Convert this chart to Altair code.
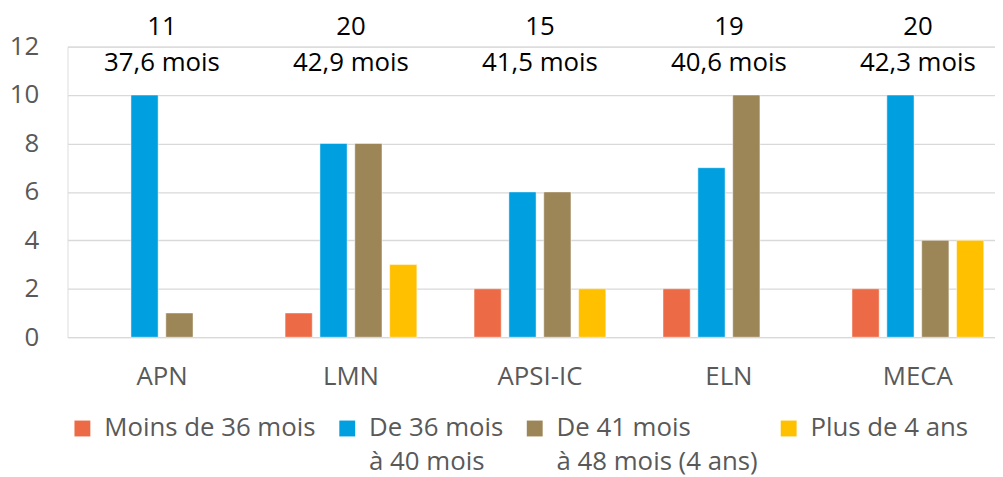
import altair as alt
import pandas as pd

categories = ["APN", "LMN", "APSI-IC", "ELN", "MECA"]
series = ["Moins de 36 mois| ", "De 36 mois|à 40 mois", "De 41 mois|à 48 mois (4 ans)", "Plus de 4 ans| "]
colors = ["#EC6B46", "#009FDF", "#9C8557", "#FFC000"]
moins_36 = [0, 1, 2, 2, 2]
de_36_40 = [10, 8, 6, 7, 10]
de_41_48 = [1, 8, 6, 10, 4]
plus_4 = [0, 3, 2, 0, 4]
effectifs = ["11", "20", "15", "19", "20"]
durees = ["37,6 mois", "42,9 mois", "41,5 mois", "40,6 mois", "42,3 mois"]

rows = []
for s, vals in zip(series, [moins_36, de_36_40, de_41_48, plus_4]):
    for c, v in zip(categories, vals):
        if v > 0:
            rows.append({"cat": c, "serie": s, "val": v})
bars_df = pd.DataFrame(rows)
top_df = pd.DataFrame({"cat": categories, "n": effectifs, "d": durees})

FONT = "Open Sans"
GREY = "#595959"
FS = 26

x_enc = alt.X("cat:N", sort=categories, title=None,
              scale=alt.Scale(paddingInner=0.262, paddingOuter=0.085, align=0.77),
              axis=alt.Axis(labelFontSize=FS, labelColor=GREY, labelFont=FONT,
                            labelPadding=19, ticks=False, domain=False, labelAngle=0))

bars = alt.Chart(bars_df).mark_bar(stroke="white", strokeWidth=0.8, strokeOpacity=0.6).encode(
    x=x_enc,
    xOffset=alt.XOffset("serie:N", sort=series,
                        scale=alt.Scale(domain=series, paddingInner=0.22, paddingOuter=0.11)),
    y=alt.Y("val:Q", title=None,
            scale=alt.Scale(domain=[0, 12], nice=False),
            axis=alt.Axis(values=[0, 2, 4, 6, 8, 10, 12], labelFontSize=FS, labelColor=GREY,
                          labelFont=FONT, labelPadding=29, ticks=False, domain=False,
                          labelBaseline="alphabetic",
                          gridColor="#D9D9D9", gridWidth=1.3)),
    color=alt.Color("serie:N", sort=series,
                    scale=alt.Scale(domain=series, range=colors),
                    legend=alt.Legend(orient="none", legendX=2, legendY=372,
                                      direction="horizontal", columns=4, title=None,
                                      symbolType="square", symbolSize=256,
                                      symbolStrokeWidth=0, labelFontSize=FS,
                                      labelColor=GREY, labelFont=FONT, labelLimit=400,
                                      labelOffset=9, columnPadding=18,
                                      labelBaseline="alphabetic",
                                      labelExpr="split(datum.label, '|')")),
)

t1 = alt.Chart(top_df).mark_text(fontSize=FS, font=FONT, color="#000000", baseline="middle").encode(
    x=alt.X("cat:N", sort=categories),
    y=alt.datum(12.82),
    text="n:N",
)
t2 = alt.Chart(top_df).mark_text(fontSize=FS, font=FONT, color="#000000", baseline="middle").encode(
    x=alt.X("cat:N", sort=categories),
    y=alt.datum(11.3),
    text="d:N",
)

chart = alt.layer(bars, t1, t2).properties(
    width=935, height=293,
    autosize=alt.AutoSizeParams(type="none"),
    padding={"left": 60, "top": 37, "right": 0, "bottom": 139},
).configure_view(stroke=None).configure(
    font=FONT, style={"guide-label": {"lineHeight": 34, "dy": 8}})

chart.save("out.html", embed_options={"renderer": "svg", "actions": False})
